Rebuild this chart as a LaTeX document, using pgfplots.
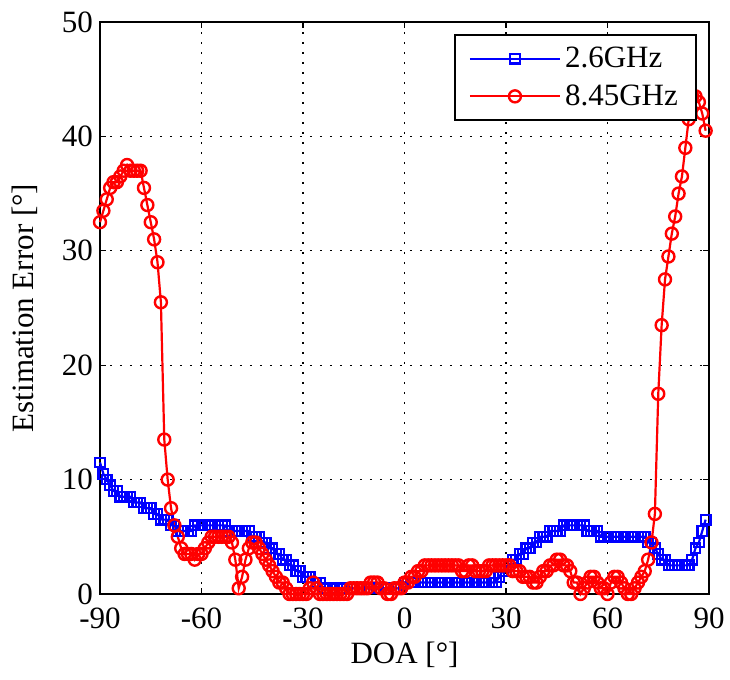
\documentclass[border=0pt]{standalone}
\usepackage{fontspec}
\setmainfont{Liberation Serif}
\usepackage{pgfplots}
\pgfplotsset{compat=1.18}
\begin{document}
\begin{tikzpicture}[font=\fontsize{15.5}{18}\selectfont]
\useasboundingbox (-50pt,-43pt) rectangle (315pt,297pt);
\begin{axis}[
  at={(0,0)}, anchor=south west,
  scale only axis, width=304.5pt, height=286pt,
  xmin=-90, xmax=90, ymin=0, ymax=50,
  xtick={-90,-60,...,90}, ytick={0,10,...,50},
  /pgf/number format/assume math mode=true,
  tick label style={font=\fontsize{15.5}{18}\selectfont},
  xticklabel style={yshift=-3.5pt},
  tick align=inside, major tick length=3pt,
  axis line style={line width=1pt},
  every tick/.style={black, line width=0.6pt},
  grid=major,
  major grid style={black, line width=0.6pt, dash pattern=on 1pt off 4pt},
  xlabel={DOA [°]}, ylabel={Estimation Error [°]},
  xlabel style={at={(axis description cs:0.5,-0.107)}, anchor=center},
  ylabel style={at={(axis description cs:-0.123,0.5)}, anchor=center},
  clip=false,
  legend style={at={(0.980,0.979)}, anchor=north east, draw=black, line width=1pt,
    fill=white, font=\fontsize{15.5}{18}\selectfont, inner xsep=7pt, inner ysep=4pt,
    row sep=3pt},
  legend cell align=left,
  legend image code/.code={\draw[mark repeat=2,mark phase=2,#1] plot coordinates {(0pt,0pt) (22.5pt,0pt) (45pt,0pt)};},
]
\addplot[blue, line width=1.1pt, mark=square, mark size=2.4pt, mark options={solid, line width=1.1pt}] table {
x y
-90 11.5
-89 10.5
-88 10
-87 9.5
-86 9
-85 9
-84 8.5
-83 8.5
-82 8.5
-81 8.5
-80 8
-79 8
-78 8
-77 7.5
-76 7.5
-75 7.5
-74 7
-73 7
-72 6.5
-71 6.5
-70 6.5
-69 6
-68 6
-67 5.5
-66 5.5
-65 5.5
-64 5.5
-63 5.5
-62 6
-61 6
-60 6
-59 6
-58 6
-57 6
-56 6
-55 6
-54 6
-53 6
-52 5.5
-51 5.5
-50 5.5
-49 5.5
-48 5.5
-47 5.5
-46 5.5
-45 5
-44 5
-43 5
-42 4.5
-41 4.5
-40 4
-39 4
-38 3.5
-37 3.5
-36 3
-35 3
-34 2.5
-33 2.5
-32 2
-31 2
-30 1.5
-29 1.5
-28 1.5
-27 1
-26 1
-25 1
-24 0.5
-23 0.5
-22 0.5
-21 0.5
-20 0.5
-19 0.5
-18 0.5
-17 0.5
-16 0.5
-15 0.5
-14 0.5
-13 0.5
-12 0.5
-11 0.5
-10 0.5
-9 0.5
-8 0.5
-7 0.5
-6 0.5
-5 0.5
-4 0.5
-3 0.5
-2 0.5
-1 0.5
0 1
1 1
2 1
3 1
4 1
5 1
6 1
7 1
8 1
9 1
10 1
11 1
12 1
13 1
14 1
15 1
16 1
17 1
18 1
19 1
20 1
21 1
22 1
23 1
24 1
25 1
26 1
27 1
28 1.5
29 2
30 2
31 2.5
32 3
33 3
34 3.5
35 3.5
36 4
37 4
38 4.5
39 4.5
40 5
41 5
42 5
43 5.5
44 5.5
45 5.5
46 5.5
47 6
48 6
49 6
50 6
51 6
52 6
53 6
54 5.5
55 5.5
56 5.5
57 5.5
58 5
59 5
60 5
61 5
62 5
63 5
64 5
65 5
66 5
67 5
68 5
69 5
70 5
71 5
72 4.5
73 4.5
74 4
75 3.5
76 3
77 3
78 2.5
79 2.5
80 2.5
81 2.5
82 2.5
83 2.5
84 2.5
85 3
86 4
87 4.5
88 5.5
89 6.5
};
\addlegendentry{2.6GHz}
\addplot[red, line width=1.1pt, mark=o, mark size=3pt, mark options={solid, line width=1.2pt}] table {
x y
-90 32.5
-89 33.5
-88 34.5
-87 35.5
-86 36
-85 36
-84 36.5
-83 37
-82 37.5
-81 37
-80 37
-79 37
-78 37
-77 35.5
-76 34
-75 32.5
-74 31
-73 29
-72 25.5
-71 13.5
-70 10
-69 7.5
-68 6
-67 5
-66 4
-65 3.5
-64 3.5
-63 3.5
-62 3
-61 3.5
-60 3.5
-59 4
-58 4.5
-57 5
-56 5
-55 5
-54 5
-53 5
-52 5
-51 4.5
-50 3
-49 0.5
-48 1.5
-47 3
-46 4
-45 4.5
-44 4.5
-43 4
-42 3.5
-41 3
-40 2.5
-39 2
-38 1.5
-37 1
-36 1
-35 0.5
-34 0
-33 0
-32 0
-31 0
-30 0
-29 0
-28 0.5
-27 1
-26 0.5
-25 0
-24 0
-23 0
-22 0
-21 0
-20 0
-19 0
-18 0
-17 0
-16 0.5
-15 0.5
-14 0.5
-13 0.5
-12 0.5
-11 0.5
-10 1
-9 1
-8 1
-7 0.5
-6 0.5
-5 0
-4 0
-3 0.5
-2 0.5
-1 0.5
0 1
1 1
2 1.5
3 1.5
4 2
5 2
6 2.5
7 2.5
8 2.5
9 2.5
10 2.5
11 2.5
12 2.5
13 2.5
14 2.5
15 2.5
16 2.5
17 2
18 2
19 2.5
20 2.5
21 2
22 2
23 2
24 2
25 2.5
26 2.5
27 2.5
28 2.5
29 2.5
30 2.5
31 2.5
32 2
33 2
34 2
35 1.5
36 1.5
37 1.5
38 1
39 1
40 1.5
41 2
42 2
43 2.5
44 2.5
45 3
46 3
47 2.5
48 2.5
49 2
50 1
51 1
52 0
53 0.5
54 1
55 1.5
56 1.5
57 1
58 0.5
59 0.5
60 0
61 1
62 1.5
63 1.5
64 1
65 0.5
66 0
67 0
68 0.5
69 1
70 1.5
71 2
72 3
73 4.5
74 7
75 17.5
76 23.5
77 27.5
78 29.5
79 31.5
80 33
81 35
82 36.5
83 39
84 41.5
85 43.5
86 43.5
87 43
88 42
89 40.5
};
\addlegendentry{8.45GHz}
\end{axis}
\end{tikzpicture}
\end{document}
